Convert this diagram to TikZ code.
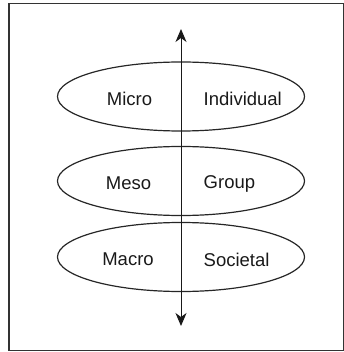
\documentclass[tikz,border=0pt]{standalone}
\usepackage{fontspec}
\setmainfont{Liberation Sans}
\usetikzlibrary{arrows.meta,shapes.geometric}
\begin{document}
\begin{tikzpicture}[x=1pt,y=-1pt,
  level/.style={draw=black!85,line width=1.2pt,ellipse,minimum width=247pt,minimum height=69pt,inner sep=0pt},
  lbl/.style={font=\fontsize{18.5}{20}\selectfont,inner sep=0pt,anchor=center,text=black!90},
  rlbl/.style={lbl,anchor=west},
  axis/.style={line width=1pt,black!90,{Stealth[length=13pt,width=11pt,inset=4pt]}-{Stealth[length=13pt,width=11pt,inset=4pt]}}]
\useasboundingbox (0,0) rectangle (344,352);
\draw[line width=1.2pt,black!80] (9,3.5) rectangle (343.5,350.5);
\node[level] (e1) at (181,96.5) {};
\node[level] (e2) at (181,181) {};
\node[level] (e3) at (181,257) {};
\coordinate (top) at (181,29);
\coordinate (bot) at (181,326);
\draw[axis] (bot) -- (top);
\node[lbl] (micro) at (129.5,99) {Micro};
\node[rlbl] (indiv) at (203.5,99) {Individual};
\node[lbl] (meso) at (128.5,183.5) {Meso};
\node[rlbl] (group) at (203.5,183.5) {Group};
\node[lbl] (macro) at (128,259.5) {Macro};
\node[rlbl] (soc) at (203.5,259.5) {Societal};
\end{tikzpicture}
\end{document}
